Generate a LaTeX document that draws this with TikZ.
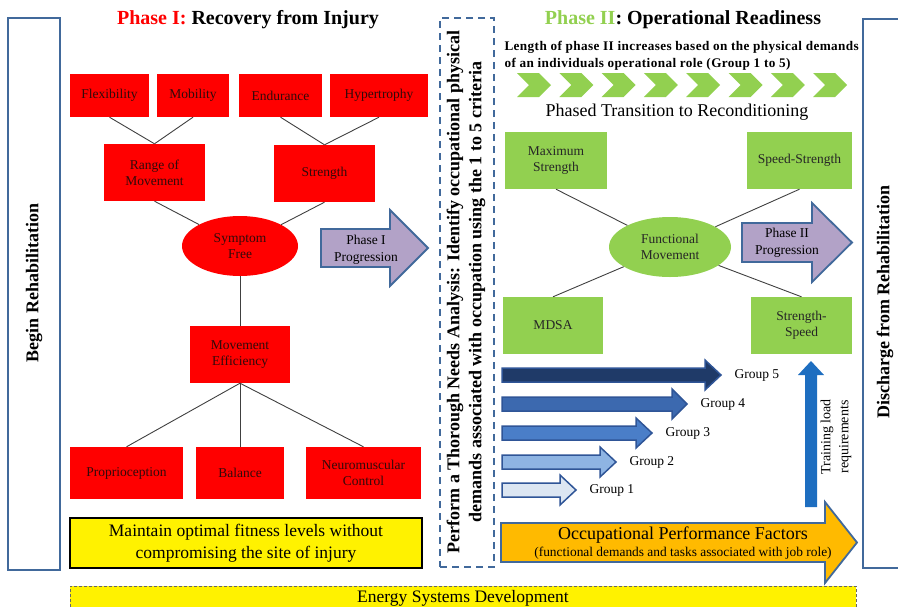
\documentclass[tikz,border=0pt]{standalone}
\usepackage{fontspec}
\setmainfont{Liberation Serif}
\usepackage{tikz}
\usetikzlibrary{arrows,%
                shapes,positioning}
\definecolor{boxred}{RGB}{255,0,0}
\definecolor{boxgreen}{RGB}{146,208,80}
\definecolor{frameblue}{RGB}{65,105,155}
\definecolor{lavender}{RGB}{178,162,199}
\definecolor{orangefill}{RGB}{255,186,0}
\definecolor{groupone}{RGB}{220,230,242}
\definecolor{grouptwo}{RGB}{142,180,227}
\definecolor{groupthree}{RGB}{74,126,200}
\definecolor{groupfour}{RGB}{60,105,175}
\definecolor{groupfive}{RGB}{31,58,104}
\definecolor{groupedge}{RGB}{47,85,151}
\definecolor{loadblue}{RGB}{30,110,192}
\definecolor{darktext}{RGB}{50,10,10}

\begin{document}
\begin{tikzpicture}[x = 1pt, y = -1pt]
  \useasboundingbox (0,0) rectangle (898,606);
  \tikzset{RedBoxStyle/.style   = {shape          = rectangle,
                                   fill           = boxred,
                                   text           = darktext,
                                   align          = center,
                                   inner sep      = 2pt,
                                   font           = \fontsize{13.5}{16}\selectfont}}
  \tikzset{GreenBoxStyle/.style = {RedBoxStyle,
                                   fill           = boxgreen,
                                   text           = black!85}}
  \tikzset{EdgeStyle/.style     = {draw           = black!75,
                                   line width     = 0.9pt}}
  \tikzset{FrameStyle/.style    = {draw           = frameblue,
                                   line width     = 2pt,
                                   inner sep      = 0pt}}
  \tikzset{DashFrameStyle/.style = {FrameStyle,
                                   dash pattern   = on 7pt off 5pt}}
  \tikzset{SideTextStyle/.style = {rotate         = 90,
                                   align          = center,
                                   font           = \bfseries\fontsize{18}{22}\selectfont}}
  \tikzset{TitleStyle/.style    = {font           = \bfseries\fontsize{20}{22}\selectfont}}
  \tikzset{BlockArrowStyle/.style = {draw         = frameblue,
                                   line width     = 1.8pt,
                                   line join      = miter}}
  \tikzset{ArrowTextStyle/.style = {align         = center,
                                   font           = \fontsize{13.5}{17}\selectfont}}
  \tikzset{YellowStyle/.style   = {fill           = yellow,
                                   align          = center,
                                   font           = \fontsize{17.5}{22}\selectfont}}

  % side frames
  \node[FrameStyle, minimum width = 52, minimum height = 552] (BeginBox) at (34,294) {};
  \node[SideTextStyle] (Begin) at (34,283) {Begin Rehabilitation};
  \node[FrameStyle, minimum width = 50, minimum height = 549, anchor = north west] (DischargeBox) at (862,18) {};
  \node[SideTextStyle] (Discharge) at (885,302) {Discharge from Rehabilitation};
  \node[DashFrameStyle, minimum width = 54, minimum height = 549] (NeedsBox) at (467,292.5) {};
  \node[SideTextStyle] (Needs) at (466,292)
       {Perform a Thorough Needs Analysis: Identify occupational physical\\
        demands associated with occupation using the 1 to 5 criteria};

  % phase I
  \node[TitleStyle] (TitleI) at (248,20) {\textcolor{boxred}{Phase I:} Recovery from Injury};
  \node[RedBoxStyle, minimum width = 79,  minimum height = 43] (Flex)  at (109.5,95.5) {Flexibility};
  \node[RedBoxStyle, minimum width = 72,  minimum height = 43] (Mob)   at (193,95.5)   {Mobility};
  \node[RedBoxStyle, minimum width = 83,  minimum height = 43] (Endu)  at (280.5,95.5) {Endurance};
  \node[RedBoxStyle, minimum width = 98,  minimum height = 43] (Hyper) at (379,95.5)   {Hypertrophy};
  \node[RedBoxStyle, minimum width = 101, minimum height = 57] (ROM)   at (154.5,172.5) {Range of\\Movement};
  \node[RedBoxStyle, minimum width = 101, minimum height = 57] (Stren) at (324.5,173.5) {Strength};
  \node[RedBoxStyle, shape = ellipse, minimum width = 116, minimum height = 60] (Symp) at (240,246) {Symptom\\Free};
  \node[RedBoxStyle, minimum width = 100, minimum height = 57] (MovEff) at (240,354.5) {Movement\\Efficiency};
  \node[RedBoxStyle, minimum width = 113, minimum height = 52] (Propr) at (126.5,473) {Proprioception};
  \node[RedBoxStyle, minimum width = 88,  minimum height = 52] (Bal)   at (240,473)   {Balance};
  \node[RedBoxStyle, minimum width = 115, minimum height = 52] (Neuro) at (363.5,473) {Neuromuscular\\Control};

  \draw[EdgeStyle] (Flex.south)  -- (ROM.north);
  \draw[EdgeStyle] (Mob.south)   -- (ROM.north);
  \draw[EdgeStyle] (Endu.south)  -- (Stren.north);
  \draw[EdgeStyle] (Hyper.south) -- (Stren.north);
  \draw[EdgeStyle] (ROM.south)   -- (Symp);
  \draw[EdgeStyle] (Stren.south) -- (Symp);
  \draw[EdgeStyle] (Symp)        -- (MovEff.north);
  \draw[EdgeStyle] (MovEff.south) -- (Propr.north);
  \draw[EdgeStyle] (MovEff.south) -- (Bal.north);
  \draw[EdgeStyle] (MovEff.south) -- (Neuro.north);

  \fill[lavender, BlockArrowStyle] (321,229) -- (390,229) -- (390,210) -- (428,248)
       -- (390,286) -- (390,267) -- (321,267) -- cycle;
  \node[ArrowTextStyle] (ProgI) at (366,249.5) {Phase I\\Progression};

  \node[YellowStyle, draw = black, line width = 2pt, minimum width = 352, minimum height = 50] (Maintain) at (246,543)
       {Maintain optimal fitness levels without\\compromising the site of injury};

  % phase II
  \node[TitleStyle] (TitleII) at (683,20) {\textcolor{boxgreen}{Phase II}: Operational Readiness};
  \node[anchor = north west, align = left,
        font = \bfseries\fontsize{13.2}{17}\selectfont\addfontfeature{LetterSpace=3}] (Length) at (501,38)
       {Length of phase II increases based on the physical demands\\
        of an individuals operational role (Group 1 to 5)};
  \foreach \i in {0,...,7}
     \fill[boxgreen] ({517+42.3*\i},73) -- ++(22,0) -- ++(12,12) -- ++(-12,12) -- ++(-22,0) -- ++(12,-12) -- cycle;
  \node[font = \fontsize{18}{20}\selectfont] (Transition) at (677,112) {Phased Transition to Reconditioning};

  \node[GreenBoxStyle, minimum width = 102, minimum height = 57] (MaxS)  at (556,160.5)   {Maximum\\Strength};
  \node[GreenBoxStyle, minimum width = 105, minimum height = 57] (SpS)   at (799.5,160.5) {Speed-Strength};
  \node[GreenBoxStyle, shape = ellipse, minimum width = 122, minimum height = 60] (FuncM) at (670,247) {Functional\\Movement};
  \node[GreenBoxStyle, minimum width = 100, minimum height = 57] (MDSA)  at (553,325.5)   {MDSA};
  \node[GreenBoxStyle, minimum width = 101, minimum height = 57] (StSp)  at (801.5,325.5) {Strength-\\Speed};

  \draw[EdgeStyle] (MaxS.south) -- (FuncM);
  \draw[EdgeStyle] (SpS.south)  -- (FuncM);
  \draw[EdgeStyle] (MDSA.north) -- (FuncM);
  \draw[EdgeStyle] (StSp.north) -- (FuncM);

  \fill[lavender, BlockArrowStyle] (742,223) -- (812,223) -- (812,203) -- (852,242.5)
       -- (812,282) -- (812,262) -- (742,262) -- cycle;
  \node[ArrowTextStyle] (ProgII) at (787,242.5) {Phase II\\Progression};

  % groups
  \foreach \t/\hs/\tip/\col/\n in {368/705/721/groupfive/5, 397/672/687/groupfour/4,
                                   426/636/652/groupthree/3, 455/600/616/grouptwo/2,
                                   483/560/576/groupone/1}
  {
     \fill[\col, draw = groupedge, line width = 1.5pt] (502,\t) -- (\hs,\t) -- (\hs,{\t-8}) -- (\tip,{\t+7})
          -- (\hs,{\t+22}) -- (\hs,{\t+14}) -- (502,{\t+14}) -- cycle;
     \node[anchor = west, font = \fontsize{13.5}{15}\selectfont] (Group\n) at ({\tip+10},{\t+7}) {Group \n};
  }

  \fill[loadblue] (805,507) -- (805,375) -- (798,375) -- (811,361) -- (824,375) -- (817,375) -- (817,507) -- cycle;
  \node[rotate = 90, align = center, font = \fontsize{14}{18}\selectfont] (Load) at (836,437) {Training load\\requirements};

  \fill[orangefill, BlockArrowStyle] (501,523) -- (825,523) -- (825,502) -- (857,542.5)
       -- (825,583) -- (825,562) -- (501,562) -- cycle;
  \node[align = center, font = \fontsize{18}{18}\selectfont] (OPF) at (683,543)
       {Occupational Performance Factors\\[-1pt]
        {\fontsize{13.4}{14}\selectfont (functional demands and tasks associated with job role)}};

  % bottom band
  \node[YellowStyle, draw = black!60, densely dashed, line width = 0.6pt, minimum width = 786, minimum height = 30,
        anchor = north west] (EnergyBox) at (70,586) {};
  \node[font = \fontsize{17.5}{20}\selectfont] (Energy) at (463,598) {Energy Systems Development};
\end{tikzpicture}
\end{document}
